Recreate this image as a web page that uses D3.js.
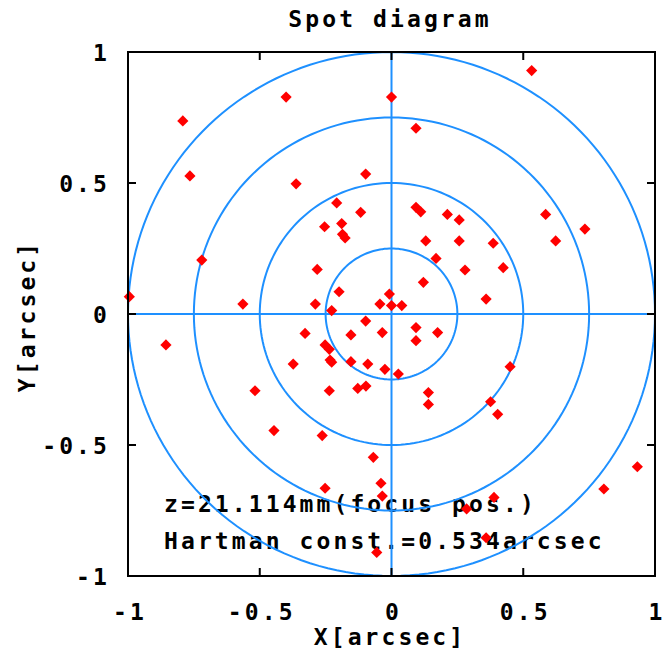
<!DOCTYPE html>
<html>
<head>
<meta charset="utf-8">
<script src="https://cdn.jsdelivr.net/npm/d3@7"></script>
<style>
  body { margin: 0; background: #fff; }
  text { font-family: "DejaVu Sans Mono", monospace; font-weight: bold; font-size: 23px; letter-spacing: 3.1px; fill: #000; }
</style>
</head>
<body>
<div id="chart"></div>
<script>
// spot positions [arcsec]
const spotX = [-0.792, -0.40, 0.0, -0.765, -0.362, -0.098, -0.208, -0.117, -0.254, -0.189, -0.186, -0.176,
  -0.72, -0.282, -0.995, -0.564, -0.289, -0.199, -0.227, -0.044, -0.008, 0.0, -0.098,
  0.532, 0.093, 0.093, 0.111, 0.212, 0.257, 0.585, 0.734, 0.623, 0.13, 0.257, 0.386, 0.169, 0.279, 0.424,
  0.121, 0.359, 0.039,
  -0.856, -0.328, -0.154, -0.035, -0.252, -0.236, -0.373, -0.233, -0.227, -0.154, -0.09, -0.025, 0.026,
  -0.518, -0.236, -0.128, -0.097, -0.446, -0.263, -0.069, -0.252, -0.04, -0.035, -0.056,
  0.093, 0.093, 0.175, 0.45, 0.14, 0.14, 0.376, 0.403, 0.933, 0.806, 0.389, 0.285, 0.359];
const spotY = [0.737, 0.828, 0.828, 0.527, 0.497, 0.534, 0.424, 0.388, 0.333, 0.345, 0.304, 0.29,
  0.206, 0.17, 0.066, 0.038, 0.038, 0.085, 0.013, 0.038, 0.076, 0.032, -0.027,
  0.929, 0.709, 0.407, 0.39, 0.38, 0.359, 0.38, 0.324, 0.279, 0.279, 0.279, 0.27, 0.212, 0.168, 0.177,
  0.121, 0.057, 0.032,
  -0.118, -0.074, -0.08, -0.071, -0.118, -0.135, -0.191, -0.176, -0.184, -0.182, -0.191, -0.211, -0.229,
  -0.293, -0.293, -0.284, -0.275, -0.445, -0.464, -0.547, -0.665, -0.646, -0.695, -0.91,
  -0.052, -0.102, -0.071, -0.201, -0.3, -0.345, -0.335, -0.383, -0.583, -0.668, -0.7, -0.744, -0.854];

const ringRadii = [0.25, 0.5, 0.75, 1.0];
const tickValues = [-1, -0.5, 0, 0.5, 1];
const tickLabels = ["-1", "-0.5", "0", "0.5", "1"];
const notes = ["z=21.114mm(focus pos.)", "Hartman const.=0.534arcsec"];

const width = 668, height = 651;
const pLeft = 128, pRight = 655, pTop = 52, pBottom = 576;

const svg = d3.select("#chart").append("svg")
  .attr("width", width)
  .attr("height", height);

const x = d3.scaleLinear().domain([-1, 1]).range([pLeft, pRight]);
const y = d3.scaleLinear().domain([-1, 1]).range([pBottom, pTop]);

svg.append("defs").append("clipPath").attr("id", "plotclip")
  .append("rect")
    .attr("x", pLeft).attr("y", pTop)
    .attr("width", pRight - pLeft).attr("height", pBottom - pTop);

// labels inside plot (drawn under the lines)
svg.selectAll(".note")
  .data(notes)
  .join("text")
    .attr("class", "note")
    .attr("x", 164)
    .attr("y", (d, i) => 512 + i * 37)
    .text(d => d);

const plot = svg.append("g").attr("clip-path", "url(#plotclip)");

// rings
const ring = d3.line()
  .x(d => x(d[0]))
  .y(d => y(d[1]));

plot.selectAll(".ring")
  .data(ringRadii)
  .join("path")
    .attr("class", "ring")
    .attr("fill", "none")
    .attr("stroke", "#1e90ff")
    .attr("stroke-width", 2)
    .attr("d", r => ring(d3.range(0, 361, 2).map(a => {
      const t = a * Math.PI / 180;
      return [r * Math.cos(t), r * Math.sin(t)];
    })));

// cross hair
plot.append("line")
  .attr("x1", x(-1)).attr("x2", x(1))
  .attr("y1", y(0)).attr("y2", y(0))
  .attr("stroke", "#1e90ff").attr("stroke-width", 2);
plot.append("line")
  .attr("x1", x(0)).attr("x2", x(0))
  .attr("y1", y(-1)).attr("y2", y(1))
  .attr("stroke", "#1e90ff").attr("stroke-width", 2);

// spots
const diamond = d3.symbol().type(d3.symbolDiamond2).size(80);
svg.selectAll(".spot")
  .data(spotX.map((v, i) => [v, spotY[i]]))
  .join("path")
    .attr("class", "spot")
    .attr("transform", d => `translate(${x(d[0])},${y(d[1])})`)
    .attr("d", diamond)
    .attr("fill", "#ff0000");

// frame
svg.append("rect")
  .attr("x", pLeft).attr("y", pTop)
  .attr("width", pRight - pLeft).attr("height", pBottom - pTop)
  .attr("fill", "none")
  .attr("stroke", "#000")
  .attr("stroke-width", 2);

// ticks (inward, mirrored)
const tl = 8;
const ticks = svg.append("g").attr("stroke", "#000").attr("stroke-width", 2);
tickValues.forEach(v => {
  ticks.append("line").attr("x1", x(v)).attr("x2", x(v)).attr("y1", pBottom).attr("y2", pBottom - tl);
  ticks.append("line").attr("x1", x(v)).attr("x2", x(v)).attr("y1", pTop).attr("y2", pTop + tl);
  ticks.append("line").attr("y1", y(v)).attr("y2", y(v)).attr("x1", pLeft).attr("x2", pLeft + tl);
  ticks.append("line").attr("y1", y(v)).attr("y2", y(v)).attr("x1", pRight).attr("x2", pRight - tl);
});

// tick labels
svg.selectAll(".xlab")
  .data(tickValues)
  .join("text")
    .attr("class", "xlab")
    .attr("x", d => x(d) + 2)
    .attr("y", 620)
    .attr("text-anchor", "middle")
    .text((d, i) => tickLabels[i]);

svg.selectAll(".ylab")
  .data(tickValues)
  .join("text")
    .attr("class", "ylab")
    .attr("x", 110)
    .attr("y", d => y(d) + 9)
    .attr("text-anchor", "end")
    .text((d, i) => tickLabels[i]);

// titles
svg.append("text")
  .attr("x", 390).attr("y", 27)
  .attr("text-anchor", "middle")
  .text("Spot diagram");

svg.append("text")
  .attr("x", 390).attr("y", 645)
  .attr("text-anchor", "middle")
  .text("X[arcsec]");

svg.append("text")
  .attr("transform", "translate(35,316) rotate(-90)")
  .attr("text-anchor", "middle")
  .text("Y[arcsec]");
</script>
</body>
</html>
